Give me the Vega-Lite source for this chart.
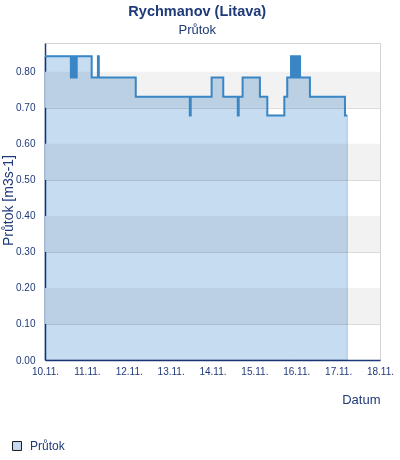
{
  "$schema": "https://vega.github.io/schema/vega-lite/v6.json",
  "width": 335,
  "height": 317,
  "autosize": {"type": "none"},
  "padding": {"left": 45, "top": 43, "right": 20, "bottom": 100},
  "background": "white",
  "config": {
    "font": "Liberation Sans",
    "view": {"stroke": "#d4d4d4", "strokeWidth": 1},
    "axis": {"labelFont": "Liberation Sans", "titleFont": "Liberation Sans", "labelOverlap": false}
  },
  "title": {
    "text": "Rychmanov (Litava)",
    "subtitle": "Průtok",
    "fontSize": 14.5,
    "fontWeight": "bold",
    "color": "#1f3a78",
    "subtitleFontSize": 13,
    "subtitleColor": "#1f3a78",
    "subtitleFont": "Liberation Sans",
    "subtitlePadding": 5,
    "anchor": "middle",
    "frame": "bounds",
    "offset": 5
  },
  "datasets": {
    "bands": [
      {"lo": 0.1, "hi": 0.2},
      {"lo": 0.3, "hi": 0.4},
      {"lo": 0.5, "hi": 0.6},
      {"lo": 0.7, "hi": 0.8}
    ],
    "flow": [
      {"t": "2024-11-10T00:00", "q": 0.843, "s": "Průtok"},
      {"t": "2024-11-10T14:50", "q": 0.784, "s": "Průtok"},
      {"t": "2024-11-10T15:15", "q": 0.843, "s": "Průtok"},
      {"t": "2024-11-10T15:35", "q": 0.784, "s": "Průtok"},
      {"t": "2024-11-10T16:00", "q": 0.843, "s": "Průtok"},
      {"t": "2024-11-10T16:20", "q": 0.784, "s": "Průtok"},
      {"t": "2024-11-10T16:45", "q": 0.843, "s": "Průtok"},
      {"t": "2024-11-10T17:05", "q": 0.784, "s": "Průtok"},
      {"t": "2024-11-10T17:30", "q": 0.843, "s": "Průtok"},
      {"t": "2024-11-10T17:50", "q": 0.784, "s": "Průtok"},
      {"t": "2024-11-10T18:10", "q": 0.843, "s": "Průtok"},
      {"t": "2024-11-11T02:45", "q": 0.784, "s": "Průtok"},
      {"t": "2024-11-11T06:20", "q": 0.843, "s": "Průtok"},
      {"t": "2024-11-11T06:50", "q": 0.784, "s": "Průtok"},
      {"t": "2024-11-12T04:00", "q": 0.731, "s": "Průtok"},
      {"t": "2024-11-13T11:00", "q": 0.679, "s": "Průtok"},
      {"t": "2024-11-13T11:30", "q": 0.731, "s": "Průtok"},
      {"t": "2024-11-13T23:30", "q": 0.784, "s": "Průtok"},
      {"t": "2024-11-14T06:10", "q": 0.731, "s": "Průtok"},
      {"t": "2024-11-14T14:30", "q": 0.679, "s": "Průtok"},
      {"t": "2024-11-14T15:00", "q": 0.731, "s": "Průtok"},
      {"t": "2024-11-14T17:15", "q": 0.784, "s": "Průtok"},
      {"t": "2024-11-15T03:10", "q": 0.731, "s": "Průtok"},
      {"t": "2024-11-15T07:25", "q": 0.679, "s": "Průtok"},
      {"t": "2024-11-15T17:10", "q": 0.731, "s": "Průtok"},
      {"t": "2024-11-15T18:50", "q": 0.784, "s": "Průtok"},
      {"t": "2024-11-15T21:00", "q": 0.843, "s": "Průtok"},
      {"t": "2024-11-15T21:25", "q": 0.784, "s": "Průtok"},
      {"t": "2024-11-15T21:50", "q": 0.843, "s": "Průtok"},
      {"t": "2024-11-15T22:15", "q": 0.784, "s": "Průtok"},
      {"t": "2024-11-15T22:40", "q": 0.843, "s": "Průtok"},
      {"t": "2024-11-15T23:05", "q": 0.784, "s": "Průtok"},
      {"t": "2024-11-15T23:30", "q": 0.843, "s": "Průtok"},
      {"t": "2024-11-15T23:55", "q": 0.784, "s": "Průtok"},
      {"t": "2024-11-16T00:20", "q": 0.843, "s": "Průtok"},
      {"t": "2024-11-16T00:45", "q": 0.784, "s": "Průtok"},
      {"t": "2024-11-16T01:10", "q": 0.843, "s": "Průtok"},
      {"t": "2024-11-16T01:35", "q": 0.784, "s": "Průtok"},
      {"t": "2024-11-16T01:55", "q": 0.843, "s": "Průtok"},
      {"t": "2024-11-16T02:10", "q": 0.784, "s": "Průtok"},
      {"t": "2024-11-16T07:50", "q": 0.731, "s": "Průtok"},
      {"t": "2024-11-17T03:55", "q": 0.679, "s": "Průtok"},
      {"t": "2024-11-17T05:15", "q": 0.679, "s": "Průtok"}
    ]
  },
  "layer": [
    {
      "data": {"name": "bands"},
      "mark": {"type": "rect", "color": "#f2f2f2"},
      "encoding": {
        "y": {
          "field": "lo", "type": "quantitative",
          "scale": {"domain": [0, 0.88], "nice": false},
          "axis": {
            "title": "Průtok [m3s-1]",
            "titleColor": "#1f3a78",
            "titleFontSize": 14,
            "titleFontWeight": "normal",
            "titleX": -30,
            "titleY": 157,
            "titleAnchor": "middle",
            "values": [0, 0.1, 0.2, 0.3, 0.4, 0.5, 0.6, 0.7, 0.8],
            "tickCount": 9,
            "format": ".2f",
            "labelColor": "#1f3a78",
            "labelFontSize": 10,
            "labelPadding": 10,
            "labelOverlap": false,
            "ticks": false,
            "gridColor": "#dcdcdc",
            "domainColor": "#1f3a78",
            "domainWidth": 1.5
          }
        },
        "y2": {"field": "hi"}
      }
    },
    {
      "data": {"name": "flow"},
      "mark": {"type": "area", "interpolate": "step-after", "blend": "multiply", "stroke": "#a9c8e6", "strokeWidth": 1},
      "encoding": {
        "x": {
          "field": "t", "type": "temporal",
          "scale": {"domain": ["2024-11-10T00:00", "2024-11-18T00:00"]},
          "axis": {
            "title": "Datum",
            "titleColor": "#1f3a78",
            "titleFontSize": 13,
            "titleFontWeight": "normal",
            "titleAnchor": "end",
            "titlePadding": 17,
            "format": "%d.%m.",
            "tickCount": {"interval": "day", "step": 1},
            "labelColor": "#1f3a78",
            "labelFontSize": 10,
            "labelPadding": 6,
            "labelFlush": false,
            "labelOverlap": false,
            "ticks": false,
            "grid": false,
            "domainColor": "#1f3a78",
            "domainWidth": 1.5
          }
        },
        "y": {"field": "q", "type": "quantitative"},
        "fill": {
          "field": "s", "type": "nominal",
          "scale": {"range": ["#c6dcf0"]},
          "legend": {
            "title": null,
            "orient": "none",
            "legendX": -34,
            "legendY": 397,
            "symbolType": "square",
            "symbolSize": 80,
            "symbolStrokeColor": "#1a1a1a",
            "symbolStrokeWidth": 1,
            "labelColor": "#1f3a78",
            "labelFontSize": 12,
            "labelOffset": 7
          }
        }
      }
    },
    {
      "data": {"name": "flow"},
      "mark": {"type": "line", "interpolate": "step-after", "color": "#3a86c4", "strokeWidth": 2},
      "encoding": {
        "x": {"field": "t", "type": "temporal"},
        "y": {"field": "q", "type": "quantitative"}
      }
    }
  ]
}
